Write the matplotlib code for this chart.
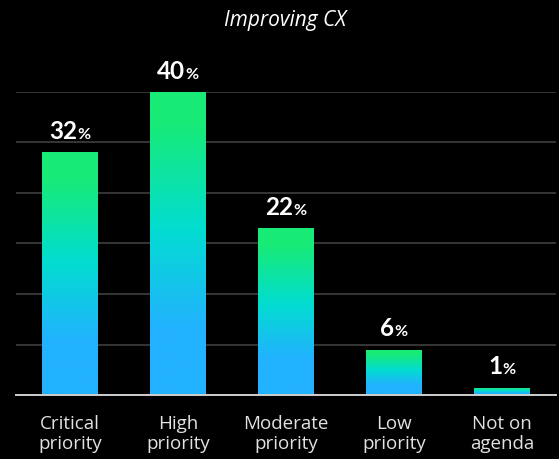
import matplotlib
matplotlib.use("Agg")
import matplotlib.pyplot as plt
import numpy as np
from matplotlib.colors import LinearSegmentedColormap

categories = ["Critical\npriority", "High\npriority", "Moderate\npriority", "Low\npriority", "Not on\nagenda"]
values = [32, 40, 22, 6, 1]
title = "Improving CX"

BG = "#000000"
# green at the top of each bar, fading through cyan into blue at the base
grad = LinearSegmentedColormap.from_list(
    "cx", [(0.0, "#22b2ff"), (0.22, "#22b2ff"), (0.55, "#02ddd0"), (0.9, "#18eb76"), (1.0, "#18eb76")])

fig = plt.figure(figsize=(5.59, 4.59), dpi=100, facecolor=BG)
ax = fig.add_axes([0.0286, 0.139, 0.966, 0.661], facecolor=BG)

x = np.arange(len(values))
width = 0.51
bars = ax.bar(x, values, width=width, color="none", edgecolor="none", zorder=3)

g = np.linspace(0, 1, 256).reshape(-1, 1)
for b in bars:
    x0, h = b.get_x(), b.get_height()
    im = ax.imshow(g, cmap=grad, origin="lower", aspect="auto",
                   extent=[x0, x0 + b.get_width(), 0, h], zorder=3)
    im.set_clip_path(b)

ax.set_xlim(-0.5, 4.5)
ax.set_ylim(0, 40)
ax.set_yticks(np.linspace(0, 40, 7))
ax.yaxis.grid(True, color="#3a3a3a", linewidth=1.3, zorder=0)
ax.set_axisbelow(True)
ax.tick_params(axis="y", left=False, labelleft=False)
ax.tick_params(axis="x", length=0, pad=14, colors="#e2e2e2")
ax.set_xticks(x)
ax.set_xticklabels(categories, fontsize=13.5, family="Open Sans", linespacing=1.2)
for s in ["top", "right", "left"]:
    ax.spines[s].set_visible(False)
ax.spines["bottom"].set_color("#cfcfcf")
ax.spines["bottom"].set_linewidth(1.4)
ax.spines["bottom"].set_zorder(4)

# value labels: bold number followed by a smaller percent sign, centred as a pair
fig.canvas.draw()
r = fig.canvas.get_renderer()
for xi, v in zip(x, values):
    num = ax.annotate(str(v), (xi, v), xytext=(0, 9.5), textcoords="offset points",
                      ha="left", va="baseline", color="white", fontsize=17.5,
                      fontweight="bold", family="Lato", annotation_clip=False)
    pct = ax.annotate("%", (xi, v), xytext=(0, 9.5), textcoords="offset points",
                      ha="left", va="baseline", color="white", fontsize=11.5,
                      fontweight="bold", family="Lato", annotation_clip=False)
    wn = num.get_window_extent(r).width * 72 / fig.dpi
    wp = pct.get_window_extent(r).width * 72 / fig.dpi
    gap = 0.5
    start = -(wn + wp + gap) / 2
    num.set_position((start, 9.5))
    pct.set_position((start + wn + gap, 9.5))

fig.text(0.51, 0.955, title, ha="center", va="center", color="white",
         fontsize=15, style="italic", family="Open Sans")

fig.savefig("out.png", dpi=100, facecolor=BG)
